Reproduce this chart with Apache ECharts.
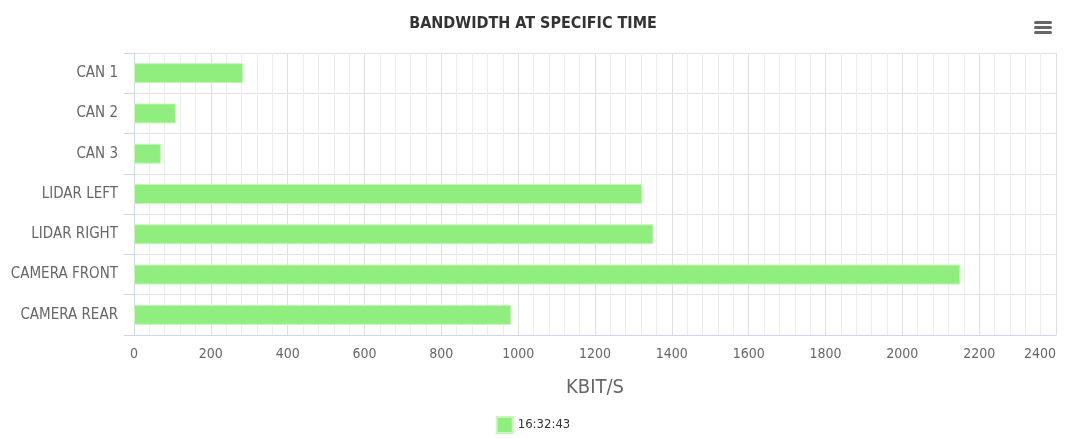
<!DOCTYPE html>
<html>
<head>
<meta charset="utf-8">
<script src="https://cdn.jsdelivr.net/npm/echarts@6/dist/echarts.min.js"></script>
<style>
  html, body { margin: 0; padding: 0; background: #fff; }
  #chart { width: 1066px; height: 439px; }
</style>
</head>
<body>
<div id="chart"></div>
<script>
const categories = ["CAN 1", "CAN 2", "CAN 3", "LIDAR LEFT", "LIDAR RIGHT", "CAMERA FRONT", "CAMERA REAR"];
const bandwidth = [284, 109, 70, 1323, 1352, 2151, 982];
const seriesName = "16:32:43";

const font = "'Liberation Sans Narrow', 'DejaVu Sans Condensed', 'Roboto', sans-serif";

const chart = echarts.init(document.getElementById("chart"), null, { renderer: "canvas" });

chart.setOption({
  animation: false,
  textStyle: { fontFamily: font },
  title: {
    text: "BANDWIDTH AT SPECIFIC TIME",
    left: "center", top: 11,
    textStyle: { fontFamily: font, fontSize: 16, fontWeight: "bold", color: "#333" },
  },
  graphic: [
    { type: "rect", left: 1034, top: 21, shape: { width: 18, height: 3, r: 1.5 }, style: { fill: "#666" } },
    { type: "rect", left: 1034, top: 26, shape: { width: 18, height: 3, r: 1.5 }, style: { fill: "#666" } },
    { type: "rect", left: 1034, top: 31, shape: { width: 18, height: 3, r: 1.5 }, style: { fill: "#666" } },
  ],
  legend: {
    bottom: 0, left: "center",
    itemWidth: 16, itemHeight: 16, itemGap: 6,
    icon: "rect",
    textStyle: { fontFamily: font, fontSize: 13, color: "#333" },
    data: [seriesName],
  },
  grid: { left: 134, right: 10, top: 53, bottom: 104, containLabel: false, outerBoundsMode: "none" },
  xAxis: {
    type: "value",
    min: 0, max: 2400, interval: 200,
    name: "KBIT/S", nameLocation: "middle", nameGap: 43,
    nameTextStyle: { fontFamily: font, fontSize: 20, color: "#666" },
    axisLine: { show: true, lineStyle: { color: "#ccd6eb" } },
    axisTick: { show: false },
    axisLabel: {
      margin: 12, fontSize: 14, color: "#666", fontFamily: font,
      alignMaxLabel: "right",
      formatter: (v) => String(v),
    },
    splitLine: { show: true, lineStyle: { color: "#e0e0e0" } },
    minorTick: { show: false, splitNumber: 5 },
    minorSplitLine: { show: true, lineStyle: { color: "#ececec" } },
  },
  yAxis: {
    type: "category",
    inverse: true,
    data: categories,
    axisLine: { show: true, lineStyle: { color: "#ccd6eb" } },
    axisTick: { show: true, length: 10, lineStyle: { color: "#ccd6eb" } },
    axisLabel: { margin: 16, fontSize: 15, color: "#666", fontFamily: font },
    splitLine: { show: true, lineStyle: { color: "#e0e0e0" } },
  },
  series: [{
    name: seriesName,
    type: "bar",
    data: bandwidth,
    barWidth: 20,
    itemStyle: { color: "#90ee7e", borderColor: "#c8f5be", borderWidth: 1 },
  }],
});
</script>
</body>
</html>
